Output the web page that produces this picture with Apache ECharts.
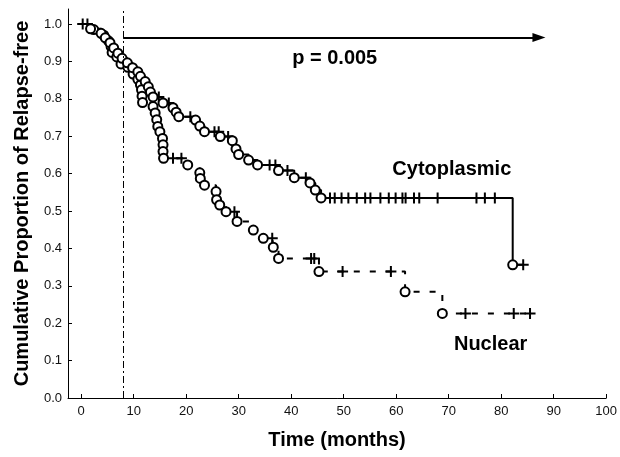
<!DOCTYPE html>
<html>
<head>
<meta charset="utf-8">
<script src="https://cdn.jsdelivr.net/npm/echarts@6/dist/echarts.min.js"></script>
<style>
html,body{margin:0;padding:0;background:#fff;}
#chart{width:620px;height:457px;}
</style>
</head>
<body>
<div id="chart"></div>
<script>
// ---- data ----
// events: [time (months), cumulative proportion relapse-free after the event]
const cytoEvents = [
  [1.8,0.987],[3.8,0.975],[4.6,0.963],[5.5,0.95],[6.2,0.936],[7.0,0.922],[7.8,0.908],
  [8.8,0.896],[9.8,0.883],[10.8,0.872],[11.3,0.86],[12.2,0.846],[12.8,0.832],[13.2,0.818],
  [13.7,0.805],[15.6,0.789],[17.5,0.776],[18.1,0.764],[18.6,0.752],[21.8,0.743],[22.6,0.727],
  [23.5,0.712],[26.5,0.699],[28.8,0.688],[29.5,0.666],[30.0,0.651],[31.9,0.636],[33.6,0.623],
  [37.6,0.608],[40.6,0.589],[43.6,0.575],[44.6,0.556],[45.7,0.535],[82.2,0.356]
];
const cytoCensored = [
  0.3,14.8,16.7,20.8,25.4,26.2,28.0,35.9,37.0,39.3,42.8,
  47.4,48.3,49.6,50.9,52.5,54.1,55.1,57.0,58.6,59.9,61.2,61.8,63.4,64.4,67.9,
  75.3,76.9,78.8,84.2
];
const nucEvents = [
  [2.4,0.985],[4.3,0.97],[5.2,0.955],[5.7,0.94],[5.9,0.924],[6.8,0.912],[7.6,0.893],
  [8.9,0.884],[9.9,0.866],[10.8,0.852],[11.3,0.837],[11.5,0.824],[11.6,0.807],[11.7,0.79],
  [13.7,0.779],[14.1,0.762],[14.4,0.744],[14.6,0.726],[15.0,0.712],[15.5,0.694],[15.6,0.677],
  [15.6,0.659],[15.7,0.641],[20.3,0.623],[22.6,0.602],[22.7,0.587],[23.5,0.569],[25.7,0.552],
  [25.8,0.53],[26.4,0.516],[27.6,0.498],[29.7,0.472],[32.8,0.449],[34.7,0.427],[36.6,0.403],
  [37.6,0.373],[45.3,0.338],[61.7,0.284],[68.8,0.226]
];
const nucCensored = [1.2,17.5,19.1,29.2,36.4,43.8,44.4,49.8,59.0,73.2,82.4,85.5];

const xTicks = [0,10,20,30,40,50,60,70,80,90,100];
const yTicks = [0,0.1,0.2,0.3,0.4,0.5,0.6,0.7,0.8,0.9,1.0];

const landmarkTime = 8;          // vertical dash-dot line
const arrowSpan = [8, 87.2];     // horizontal arrow (months)
const arrowLevel = 0.964;
const annotations = [
  {name:'p = 0.005', value:[48.3,0.907]},
  {name:'Cytoplasmic', value:[70.6,0.61]},
  {name:'Nuclear', value:[78.0,0.143]}
];

// ---- build KM step curves ----
function levelAt(events, t){
  let s = 1;
  for (const e of events){ if (e[0] <= t) s = e[1]; else break; }
  return s;
}
function buildCurve(events, censored){
  const pts = events.map(e => ({t:e[0], s:e[1], ev:1}))
    .concat(censored.map(t => ({t:t, s:levelAt(events,t), ev:0})));
  pts.sort((a,b) => a.t - b.t || b.ev - a.ev);
  return [[0,1]].concat(pts.map(p => [p.t, p.s]));
}
const cytoCensorPts = cytoCensored.map(t => [t, levelAt(cytoEvents,t)]);
const nucCensorPts = nucCensored.map(t => [t, levelAt(nucEvents,t)]);

const plusPath = 'path://M4.5,0H6.5V4.5H11V6.5H6.5V11H4.5V6.5H0V4.5H4.5Z';
const FONT = 'Liberation Sans';

const chart = echarts.init(document.getElementById('chart'), null, {renderer:'canvas'});
chart.setOption({
  animation:false,
  backgroundColor:'#fff',
  grid:{left:68,right:11,top:9,bottom:59,containLabel:false},
  xAxis:{
    type:'value', min:-2.5, max:100,
    name:'Time (months)', nameLocation:'middle', nameGap:32,
    nameTextStyle:{fontFamily:FONT,fontSize:20,fontWeight:'bold',color:'#000'},
    axisLine:{show:true,onZero:false,lineStyle:{color:'#000',width:1}},
    axisTick:{show:true,inside:true,length:4,customValues:xTicks,lineStyle:{color:'#000'}},
    axisLabel:{customValues:xTicks,margin:7,fontFamily:FONT,fontSize:13,color:'#111'},
    splitLine:{show:false}
  },
  yAxis:{
    type:'value', min:0, max:1.04,
    name:'Cumulative Proportion of Relapse-free', nameLocation:'middle', nameGap:36, nameRotate:90,
    nameTextStyle:{fontFamily:FONT,fontSize:20,fontWeight:'bold',color:'#000'},
    axisLine:{show:true,onZero:false,lineStyle:{color:'#000',width:1}},
    axisTick:{show:true,inside:true,length:4,customValues:yTicks,lineStyle:{color:'#000'}},
    axisLabel:{customValues:yTicks,margin:6,fontFamily:FONT,fontSize:13,color:'#111',
      formatter:v => v.toFixed(1)},
    splitLine:{show:false}
  },
  series:[
    {
      name:'Nuclear line', type:'line', step:'end', data:buildCurve(nucEvents,nucCensored),
      showSymbol:false, symbol:'none', silent:true, z:2,
      lineStyle:{color:'#000',width:2,type:[6,10]}
    },
    {
      name:'Cytoplasmic line', type:'line', step:'end', data:buildCurve(cytoEvents,cytoCensored),
      showSymbol:false, symbol:'none', silent:true, z:2,
      lineStyle:{color:'#000',width:2,type:'solid'},
      markLine:{
        silent:true, animation:false, label:{show:false}, symbol:'none',
        data:[
          [{coord:[landmarkTime,0],symbol:'none',lineStyle:{type:[7,3,2,3],width:1,color:'#000'}},
           {coord:[landmarkTime,1.04],symbol:'none'}],
          [{coord:[arrowSpan[0],arrowLevel],symbol:'none',lineStyle:{type:'solid',width:2,color:'#000'}},
           {coord:[arrowSpan[1],arrowLevel],symbol:'triangle',symbolSize:[9,13]}]
        ]
      }
    },
    {
      name:'censored', type:'scatter', data:nucCensorPts.concat(cytoCensorPts),
      symbol:plusPath, symbolSize:11, silent:true, z:3,
      itemStyle:{color:'#000',opacity:1}
    },
    {
      name:'events', type:'scatter', data:nucEvents.concat(cytoEvents),
      symbol:'circle', symbolSize:9, silent:true, z:4,
      itemStyle:{color:'#fff',borderColor:'#000',borderWidth:2,opacity:1}
    },
    {
      name:'annotations', type:'scatter', data:annotations, symbolSize:0, silent:true, z:5,
      itemStyle:{opacity:1},
      label:{show:true,position:'inside',formatter:'{b}',fontFamily:FONT,fontSize:20,fontWeight:'bold',color:'#000'}
    }
  ]
});
</script>
</body>
</html>
